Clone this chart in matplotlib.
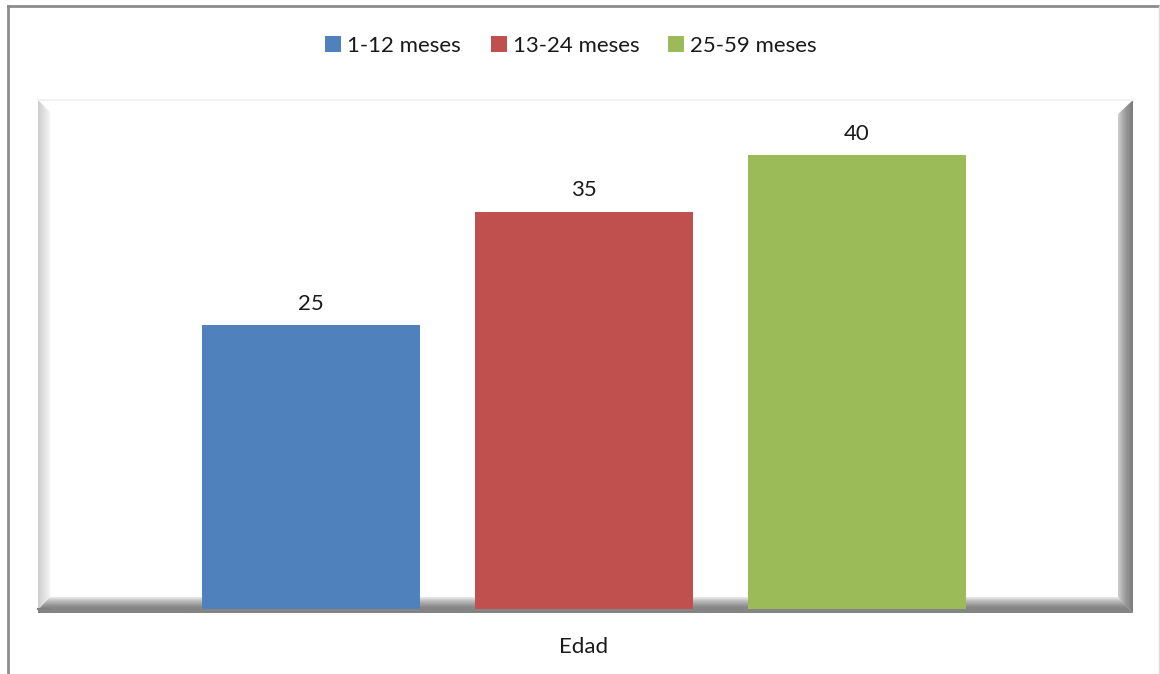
import numpy as np
import matplotlib
matplotlib.use("Agg")
import matplotlib.pyplot as plt
from matplotlib.patches import Polygon, Rectangle
from matplotlib.lines import Line2D

# ---- data ----
category = "Edad"
series_names = ["1-12 meses", "13-24 meses", "25-59 meses"]
values = [25, 35, 40]
colors = ["#4F81BD", "#C0504D", "#9BBB59"]

plt.rcParams['font.family'] = ['Lato', 'DejaVu Sans']
FS = 16

W, H = 1160, 674
fig = plt.figure(figsize=(W / 100, H / 100), dpi=100)
fig.patch.set_facecolor("white")

# background / decoration axes in pixel coordinates
bg = fig.add_axes([0, 0, 1, 1], zorder=0)
bg.set_xlim(0, W)
bg.set_ylim(H, 0)
bg.axis("off")

# outer chart frame
bg.add_line(Line2D([8, 8], [6, H], color="#8c8c8c", lw=2))
bg.add_line(Line2D([8, 1158], [6, 6], color="#8c8c8c", lw=2))
bg.add_line(Line2D([1159, 1159], [6, H], color="#dcdcdc", lw=1))

# faint top edge of the plot area
bg.add_line(Line2D([38, 1133], [100, 100], color="#f2f2f2", lw=1.5))


def gradient(poly_pts, extent, cols, horizontal=True):
    from matplotlib.colors import LinearSegmentedColormap
    cmap = LinearSegmentedColormap.from_list("g", cols)
    grad = np.linspace(0, 1, 256)
    if horizontal:
        img = grad[None, :]
    else:
        img = grad[:, None]
    im = bg.imshow(img, cmap=cmap, extent=extent, aspect="auto",
                   origin="upper" if not horizontal else "lower",
                   interpolation="bilinear", zorder=1)
    poly = Polygon(poly_pts, closed=True, transform=bg.transData,
                   facecolor="none", edgecolor="none")
    bg.add_patch(poly)
    im.set_clip_path(poly)


# left wall (light)
gradient([(38, 100), (50, 112), (50, 598), (38, 610)],
         (38, 50, 612, 100), ["#cdcdcd", "#f4f4f4"], horizontal=True)
# right wall (dark)
gradient([(1133, 100), (1118, 114), (1118, 598), (1133, 613)],
         (1118, 1133, 613, 100), ["#d0d0d0", "#9a9a9a", "#7a7a7a"], horizontal=True)
# floor
gradient([(50, 597), (1118, 597), (1133, 613), (38, 613), (38, 610)],
         (38, 1133, 613, 596), ["#f8f8f8", "#b5b5b5", "#878787", "#838383"],
         horizontal=False)
bg.add_line(Line2D([38, 50], [609, 609], color="#808080", lw=1.5, zorder=2))

# main axes
left, right, top, bottom = 50, 1118, 98, 609
ax = fig.add_axes([left / W, 1 - bottom / H, (right - left) / W, (bottom - top) / H],
                  zorder=2)
ax.patch.set_alpha(0)
for s in ax.spines.values():
    s.set_visible(False)
ax.set_xticks([])
ax.set_yticks([])

x = np.arange(len(values)) - 1
ax.set_xlim(-1.956, 1.956)
ax.set_ylim(0, 45)
bars = ax.bar(x, values, width=0.8, color=colors, zorder=3)
for xi, v in zip(x, values):
    ax.annotate(f"{v}", (xi, v), xytext=(0, 8), textcoords="offset points",
                ha="center", va="bottom", fontsize=FS, color="#1a1a1a")

# category label
fig.text(584 / W, 1 - 647 / H, category, ha="center", va="center",
         fontsize=FS, color="#1a1a1a")

# legend (manual)
sq_x = [325, 491, 668]
for sx, name, c in zip(sq_x, series_names, colors):
    bg.add_patch(Rectangle((sx, 36), 16, 16, facecolor=c, edgecolor="none", zorder=3))
    bg.text(sx + 22, 46, name, ha="left", va="center", fontsize=FS,
            color="#1a1a1a", zorder=3)

fig.savefig("out.png", dpi=100)
